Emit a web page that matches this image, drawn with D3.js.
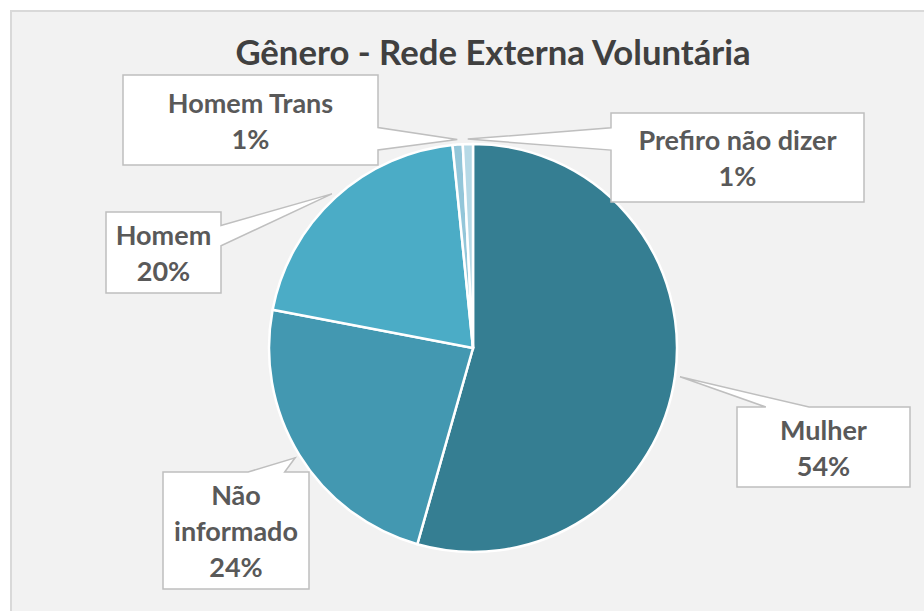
<!DOCTYPE html>
<html lang="pt">
<head>
<meta charset="utf-8">
<title>Gênero - Rede Externa Voluntária</title>
<script src="https://cdn.jsdelivr.net/npm/d3@7"></script>
<style>
  body { margin: 0; background: #fff; }
  text { font-family: Lato, "Open Sans", sans-serif; font-weight: bold; }
</style>
</head>
<body>
<script>
// data (percent of respondents)
var categories = ["Mulher", "Não informado", "Homem", "Homem Trans", "Prefiro não dizer"];
var values = [54.4, 23.6, 20.4, 0.8, 0.8];
var labelLines = [["Mulher"], ["Não", "informado"], ["Homem"], ["Homem Trans"], ["Prefiro não dizer"]];

var colors = ["#357e92", "#4398b1", "#4bacc6", "#93c6d9", "#b6d9e6"];

// callout boxes, same order as categories
var boxes = [
  { x: 737, y: 407, w: 173, h: 80, side: "top" },
  { x: 163, y: 472, w: 146, h: 117, side: "top" },
  { x: 106, y: 212, w: 115, h: 81, side: "right" },
  { x: 123, y: 75, w: 255, h: 90, side: "right" },
  { x: 611, y: 113, w: 253, h: 89, side: "left" }
];

var w = 924, h = 611;
var cx = 473, cy = 348, r = 204;

var svg = d3.select("body").append("svg")
  .attr("width", w)
  .attr("height", h);

svg.append("rect")
  .attr("x", 11).attr("y", 11)
  .attr("width", w).attr("height", h)
  .attr("fill", "#f2f2f2")
  .attr("stroke", "#d9d9d9")
  .attr("stroke-width", 2);

svg.append("text")
  .attr("x", 493).attr("y", 65)
  .attr("text-anchor", "middle")
  .attr("font-size", 34.7)
  .attr("fill", "#404040")
  .text("Gênero - Rede Externa Voluntária");

var data = categories.map(function(c, i) { return { name: c, value: values[i], lines: labelLines[i], i: i }; });
var total = d3.sum(values);
var pct = d3.format(".0%");

var pie = d3.pie().sort(null).value(function(d) { return d.value; });
var arc = d3.arc().innerRadius(0).outerRadius(r);
var arcs = pie(data);

var g = svg.append("g").attr("transform", "translate(" + cx + "," + cy + ")");

g.selectAll("path")
  .data(arcs)
  .enter()
  .append("path")
  .attr("d", arc)
  .attr("fill", function(d) { return colors[d.data.i]; })
  .attr("stroke", "#fff")
  .attr("stroke-width", 2.5);

// callout path: box with a wedge pointing at the slice
function callout(b, tip) {
  var x0 = b.x, y0 = b.y, x1 = b.x + b.w, y1 = b.y + b.h;
  var p = d3.path();
  var a, c;
  if (b.side === "top" || b.side === "bottom") {
    var near = tip[0] < b.x + b.w / 2;
    a = x0 + b.w * (near ? 1/6 : 7/12);
    c = x0 + b.w * (near ? 5/12 : 5/6);
  } else {
    var nearY = tip[1] < b.y + b.h / 2;
    a = y0 + b.h * (nearY ? 1/6 : 7/12);
    c = y0 + b.h * (nearY ? 5/12 : 5/6);
  }
  p.moveTo(x0, y0);
  if (b.side === "top") { p.lineTo(a, y0); p.lineTo(tip[0], tip[1]); p.lineTo(c, y0); }
  p.lineTo(x1, y0);
  if (b.side === "right") { p.lineTo(x1, a); p.lineTo(tip[0], tip[1]); p.lineTo(x1, c); }
  p.lineTo(x1, y1);
  if (b.side === "bottom") { p.lineTo(c, y1); p.lineTo(tip[0], tip[1]); p.lineTo(a, y1); }
  p.lineTo(x0, y1);
  if (b.side === "left") { p.lineTo(x0, c); p.lineTo(tip[0], tip[1]); p.lineTo(x0, a); }
  p.closePath();
  return p.toString();
}

var tipArc = d3.arc().innerRadius(r + 5).outerRadius(r + 5);

var labels = svg.selectAll("g.label")
  .data(arcs)
  .enter()
  .append("g")
  .attr("class", "label");

labels.append("path")
  .attr("d", function(d) {
    var t = tipArc.centroid(d);
    return callout(boxes[d.data.i], [t[0] + cx, t[1] + cy]);
  })
  .attr("fill", "#fff")
  .attr("stroke", "#bfbfbf")
  .attr("stroke-width", 1.5);

var lineH = 36;
labels.each(function(d) {
  var b = boxes[d.data.i];
  var lines = d.data.lines.concat([pct(d.data.value / total)]);
  var n = lines.length;
  d3.select(this).selectAll("text")
    .data(lines)
    .enter()
    .append("text")
    .attr("x", b.x + b.w / 2)
    .attr("y", function(s, k) { return b.y + b.h / 2 + (k - (n - 1) / 2) * lineH + 10.5; })
    .attr("text-anchor", "middle")
    .attr("font-size", 27)
    .attr("fill", "#595959")
    .text(function(s) { return s; });
});
</script>
</body>
</html>
